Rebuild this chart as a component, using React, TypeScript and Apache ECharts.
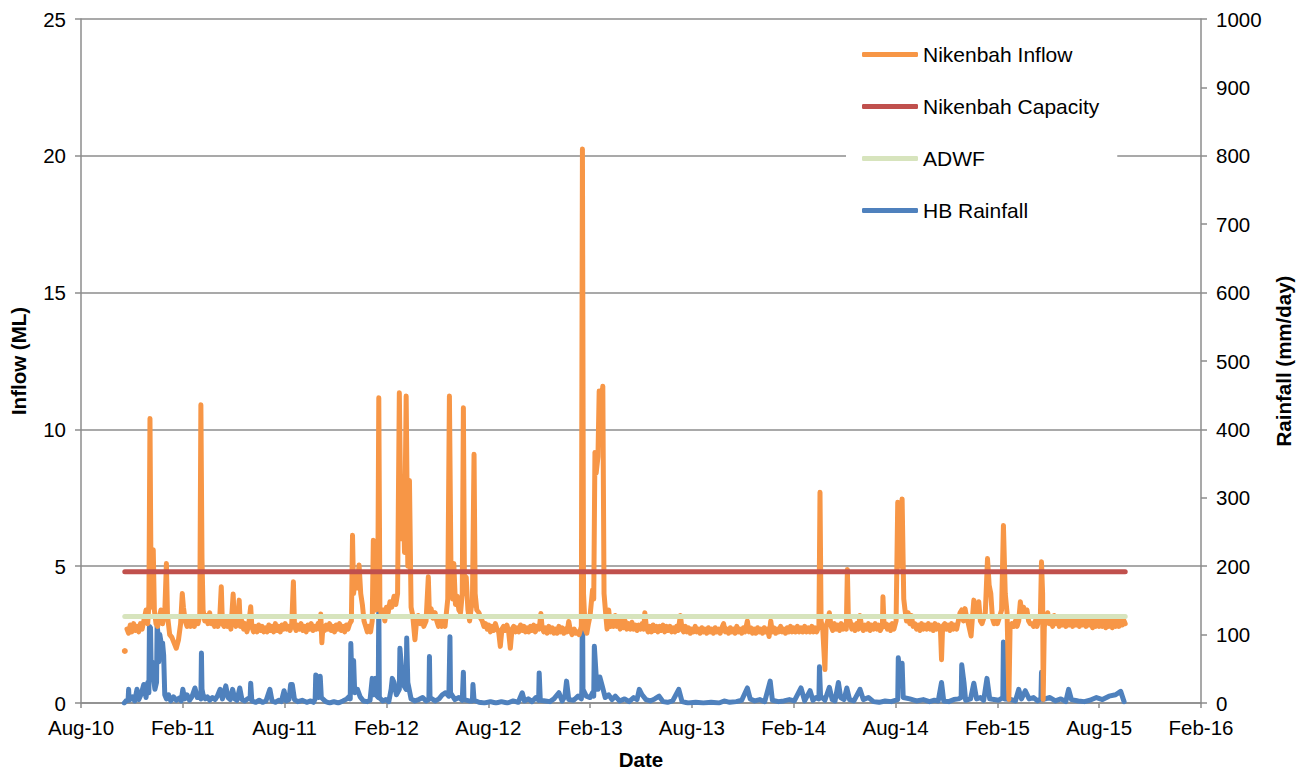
import React, { useEffect, useRef } from 'react';
import * as echarts from 'echarts';

const xTickLabels = ['Aug-10', 'Feb-11', 'Aug-11', 'Feb-12', 'Aug-12', 'Feb-13', 'Aug-13', 'Feb-14', 'Aug-14', 'Feb-15', 'Aug-15', 'Feb-16'];

const seriesNames = ['Nikenbah Inflow', 'Nikenbah Capacity', 'ADWF', 'HB Rainfall'];

const capacityML = 4.8;
const adwfML = 3.16;
const refLineDates = ['2010-10-19', '2015-09-17'];

// first isolated reading (drawn as a dot)
const inflowFirst: [string, number] = ['2010-10-19', 1.9];

const inflow: [string, number][] = [
  ['2010-10-23', 2.7], ['2010-10-26', 2.55], ['2010-10-29', 2.85], ['2010-11-01', 2.6], ['2010-11-04', 2.9], ['2010-11-07', 2.65], ['2010-11-10', 2.8], ['2010-11-13', 2.6], ['2010-11-16', 2.9], ['2010-11-19', 2.7], ['2010-11-22', 3.0], ['2010-11-26', 3.4], ['2010-11-29', 2.9], ['2010-12-01', 3.6], ['2010-12-03', 10.4], ['2010-12-05', 4.2], ['2010-12-07', 3.5], ['2010-12-09', 5.6], ['2010-12-11', 3.4], ['2010-12-14', 2.9], ['2010-12-17', 2.8], ['2010-12-20', 3.1], ['2010-12-23', 3.4], ['2010-12-26', 2.9], ['2010-12-30', 3.3],
  ['2011-01-02', 5.1], ['2011-01-04', 3.2], ['2011-01-08', 2.5], ['2011-01-12', 2.4], ['2011-01-16', 2.2], ['2011-01-20', 2.0], ['2011-01-24', 2.3], ['2011-01-28', 2.9], ['2011-01-31', 4.0], ['2011-02-02', 3.5], ['2011-02-05', 3.0], ['2011-02-08', 2.8], ['2011-02-11', 3.1], ['2011-02-14', 2.8], ['2011-02-17', 3.0], ['2011-02-20', 2.8], ['2011-02-23', 3.1], ['2011-02-26', 2.9], ['2011-03-01', 3.2], ['2011-03-03', 10.9], ['2011-03-05', 5.3], ['2011-03-07', 3.4], ['2011-03-10', 3.0], ['2011-03-13', 3.2], ['2011-03-16', 2.9], ['2011-03-19', 3.3], ['2011-03-22', 2.9], ['2011-03-25', 3.1], ['2011-03-28', 2.8], ['2011-03-31', 3.0], ['2011-04-03', 2.8], ['2011-04-06', 3.0], ['2011-04-09', 4.25], ['2011-04-11', 2.9], ['2011-04-14', 2.8], ['2011-04-17', 3.1], ['2011-04-20', 2.8], ['2011-04-23', 3.0], ['2011-04-26', 2.7], ['2011-04-30', 3.98], ['2011-05-02', 3.0], ['2011-05-05', 2.8], ['2011-05-08', 3.0], ['2011-05-11', 3.76], ['2011-05-13', 2.8], ['2011-05-16', 3.0], ['2011-05-19', 2.7], ['2011-05-22', 2.9], ['2011-05-25', 2.6], ['2011-05-28', 2.8], ['2011-06-01', 3.52], ['2011-06-03', 2.8], ['2011-06-06', 2.6], ['2011-06-09', 2.8], ['2011-06-12', 2.6], ['2011-06-15', 2.85], ['2011-06-18', 2.65], ['2011-06-21', 2.8], ['2011-06-24', 2.6], ['2011-06-27', 2.75], ['2011-06-30', 2.6], ['2011-07-03', 2.85], ['2011-07-06', 2.65], ['2011-07-09', 2.8], ['2011-07-12', 2.6], ['2011-07-15', 2.9], ['2011-07-18', 2.65], ['2011-07-21', 2.8], ['2011-07-24', 2.6], ['2011-07-27', 2.85], ['2011-07-30', 2.7], ['2011-08-02', 2.9], ['2011-08-05', 2.7], ['2011-08-08', 2.8], ['2011-08-11', 2.65], ['2011-08-14', 2.9], ['2011-08-17', 4.43], ['2011-08-19', 2.8], ['2011-08-22', 2.65], ['2011-08-25', 2.85], ['2011-08-28', 2.7], ['2011-08-31', 2.9], ['2011-09-03', 2.65], ['2011-09-06', 2.8], ['2011-09-09', 2.6], ['2011-09-12', 2.85], ['2011-09-15', 2.7], ['2011-09-18', 2.9], ['2011-09-21', 2.65], ['2011-09-24', 2.8], ['2011-09-27', 2.7], ['2011-09-30', 2.9], ['2011-10-03', 2.7], ['2011-10-05', 3.25], ['2011-10-07', 2.2], ['2011-10-09', 2.8], ['2011-10-12', 2.65], ['2011-10-15', 2.85], ['2011-10-18', 2.7], ['2011-10-21', 2.9], ['2011-10-24', 2.65], ['2011-10-27', 2.8], ['2011-10-30', 2.6], ['2011-11-02', 2.85], ['2011-11-05', 2.7], ['2011-11-08', 2.9], ['2011-11-11', 2.65], ['2011-11-14', 2.8], ['2011-11-17', 2.6], ['2011-11-20', 2.85], ['2011-11-23', 2.7], ['2011-11-26', 2.9], ['2011-11-29', 3.0], ['2011-12-01', 6.13], ['2011-12-03', 4.0], ['2011-12-06', 4.6], ['2011-12-09', 4.2], ['2011-12-13', 5.04], ['2011-12-16', 4.0], ['2011-12-19', 3.6], ['2011-12-22', 3.0], ['2011-12-25', 2.8], ['2011-12-28', 2.6], ['2011-12-31', 2.8],
  ['2012-01-03', 2.6], ['2012-01-06', 3.0], ['2012-01-08', 5.95], ['2012-01-10', 3.5], ['2012-01-13', 3.4], ['2012-01-16', 3.6], ['2012-01-18', 11.16], ['2012-01-20', 3.5], ['2012-01-23', 3.2], ['2012-01-26', 3.4], ['2012-01-29', 3.0], ['2012-02-01', 3.5], ['2012-02-04', 3.3], ['2012-02-07', 3.7], ['2012-02-10', 3.5], ['2012-02-14', 3.9], ['2012-02-17', 3.6], ['2012-02-20', 4.0], ['2012-02-23', 11.34], ['2012-02-26', 6.0], ['2012-02-29', 8.25], ['2012-03-03', 5.5], ['2012-03-06', 11.22], ['2012-03-09', 5.0], ['2012-03-12', 8.13], ['2012-03-15', 3.5], ['2012-03-18', 3.2], ['2012-03-22', 2.31], ['2012-03-25', 3.0], ['2012-03-28', 3.2], ['2012-04-01', 2.9], ['2012-04-04', 3.1], ['2012-04-07', 2.8], ['2012-04-11', 3.0], ['2012-04-15', 4.61], ['2012-04-17', 3.2], ['2012-04-20', 3.45], ['2012-04-23', 3.1], ['2012-04-27', 3.3], ['2012-04-30', 3.0], ['2012-05-03', 2.8], ['2012-05-06', 3.0], ['2012-05-09', 2.8], ['2012-05-12', 3.0], ['2012-05-15', 2.8], ['2012-05-18', 3.4], ['2012-05-20', 3.8], ['2012-05-23', 11.22], ['2012-05-26', 4.5], ['2012-05-29', 3.8], ['2012-05-31', 5.1], ['2012-06-03', 3.6], ['2012-06-06', 3.9], ['2012-06-09', 3.4], ['2012-06-12', 3.3], ['2012-06-15', 4.0], ['2012-06-17', 10.79], ['2012-06-19', 4.0], ['2012-06-22', 4.6], ['2012-06-25', 3.4], ['2012-06-28', 3.0], ['2012-07-01', 3.5], ['2012-07-03', 3.6], ['2012-07-06', 9.09], ['2012-07-08', 4.0], ['2012-07-11', 3.4], ['2012-07-15', 3.3], ['2012-07-18', 3.1], ['2012-07-21', 3.0], ['2012-07-24', 2.8], ['2012-07-27', 2.9], ['2012-07-30', 2.7], ['2012-08-02', 2.85], ['2012-08-05', 2.6], ['2012-08-08', 2.8], ['2012-08-11', 2.65], ['2012-08-14', 2.9], ['2012-08-17', 2.7], ['2012-08-20', 2.6], ['2012-08-23', 2.07], ['2012-08-26', 2.7], ['2012-08-29', 2.8], ['2012-09-01', 2.65], ['2012-09-04', 2.85], ['2012-09-07', 2.6], ['2012-09-10', 2.0], ['2012-09-13', 2.7], ['2012-09-16', 2.8], ['2012-09-19', 2.6], ['2012-09-22', 2.75], ['2012-09-25', 2.6], ['2012-09-28', 2.85], ['2012-10-01', 2.65], ['2012-10-04', 2.8], ['2012-10-07', 2.6], ['2012-10-10', 2.75], ['2012-10-13', 2.6], ['2012-10-16', 2.8], ['2012-10-19', 2.65], ['2012-10-22', 2.85], ['2012-10-25', 2.6], ['2012-10-28', 2.8], ['2012-11-01', 2.7], ['2012-11-04', 3.27], ['2012-11-06', 2.8], ['2012-11-09', 2.6], ['2012-11-12', 2.75], ['2012-11-15', 2.55], ['2012-11-18', 2.8], ['2012-11-21', 2.6], ['2012-11-24', 2.75], ['2012-11-27', 2.55], ['2012-11-30', 2.7], ['2012-12-03', 2.55], ['2012-12-06', 2.8], ['2012-12-09', 2.6], ['2012-12-12', 2.75], ['2012-12-15', 2.55], ['2012-12-18', 2.7], ['2012-12-21', 2.6], ['2012-12-24', 2.98], ['2012-12-27', 2.65], ['2012-12-30', 2.5],
  ['2013-01-03', 2.7], ['2013-01-06', 2.55], ['2013-01-09', 2.6], ['2013-01-12', 2.5], ['2013-01-16', 2.8], ['2013-01-18', 20.25], ['2013-01-20', 4.0], ['2013-01-23', 2.7], ['2013-01-26', 2.55], ['2013-01-29', 2.9], ['2013-02-01', 3.2], ['2013-02-05', 4.13], ['2013-02-07', 3.8], ['2013-02-09', 9.16], ['2013-02-11', 8.4], ['2013-02-14', 9.0], ['2013-02-16', 11.4], ['2013-02-19', 10.8], ['2013-02-22', 11.58], ['2013-02-24', 4.0], ['2013-02-27', 3.2], ['2013-03-01', 2.7], ['2013-03-04', 3.4], ['2013-03-07', 2.8], ['2013-03-10', 3.1], ['2013-03-13', 2.8], ['2013-03-16', 3.2], ['2013-03-19', 2.8], ['2013-03-22', 3.0], ['2013-03-25', 2.7], ['2013-03-28', 3.0], ['2013-03-31', 2.75], ['2013-04-03', 3.0], ['2013-04-06', 2.7], ['2013-04-09', 2.9], ['2013-04-12', 2.7], ['2013-04-15', 2.95], ['2013-04-18', 2.7], ['2013-04-21', 2.85], ['2013-04-24', 2.65], ['2013-04-27', 2.85], ['2013-04-30', 2.7], ['2013-05-03', 2.9], ['2013-05-06', 2.7], ['2013-05-08', 3.3], ['2013-05-11', 2.75], ['2013-05-14', 2.6], ['2013-05-17', 2.8], ['2013-05-20', 2.6], ['2013-05-23', 2.85], ['2013-05-26', 2.65], ['2013-05-29', 2.8], ['2013-06-01', 2.6], ['2013-06-04', 2.8], ['2013-06-07', 2.65], ['2013-06-10', 2.85], ['2013-06-13', 2.6], ['2013-06-16', 2.8], ['2013-06-19', 2.65], ['2013-06-22', 2.8], ['2013-06-25', 2.6], ['2013-06-28', 2.75], ['2013-07-01', 2.6], ['2013-07-04', 2.8], ['2013-07-07', 2.65], ['2013-07-11', 3.2], ['2013-07-14', 2.7], ['2013-07-17', 2.6], ['2013-07-20', 2.8], ['2013-07-23', 2.6], ['2013-07-26', 2.75], ['2013-07-29', 2.55], ['2013-08-01', 2.7], ['2013-08-04', 2.6], ['2013-08-07', 2.8], ['2013-08-10', 2.6], ['2013-08-13', 2.7], ['2013-08-16', 2.55], ['2013-08-19', 2.75], ['2013-08-22', 2.6], ['2013-08-25', 2.7], ['2013-08-28', 2.55], ['2013-08-31', 2.75], ['2013-09-03', 2.6], ['2013-09-06', 2.7], ['2013-09-09', 2.55], ['2013-09-12', 2.75], ['2013-09-15', 2.6], ['2013-09-18', 2.7], ['2013-09-21', 2.55], ['2013-09-24', 2.75], ['2013-09-27', 2.9], ['2013-09-30', 2.6], ['2013-10-03', 2.7], ['2013-10-06', 2.55], ['2013-10-09', 2.75], ['2013-10-12', 2.6], ['2013-10-15', 2.7], ['2013-10-18', 2.55], ['2013-10-21', 2.8], ['2013-10-24', 2.6], ['2013-10-27', 2.7], ['2013-10-30', 2.55], ['2013-11-02', 2.75], ['2013-11-05', 2.6], ['2013-11-09', 3.0], ['2013-11-12', 2.6], ['2013-11-15', 2.75], ['2013-11-18', 2.55], ['2013-11-21', 2.7], ['2013-11-24', 2.55], ['2013-11-27', 2.75], ['2013-11-30', 2.6], ['2013-12-03', 2.7], ['2013-12-06', 2.55], ['2013-12-09', 2.75], ['2013-12-12', 2.6], ['2013-12-15', 2.7], ['2013-12-18', 2.43], ['2013-12-21', 3.0], ['2013-12-24', 2.6], ['2013-12-27', 2.75], ['2013-12-30', 2.55],
  ['2014-01-02', 2.7], ['2014-01-05', 2.6], ['2014-01-08', 2.8], ['2014-01-11', 2.6], ['2014-01-14', 2.7], ['2014-01-17', 2.55], ['2014-01-20', 2.75], ['2014-01-23', 2.6], ['2014-01-26', 2.8], ['2014-01-29', 2.6], ['2014-02-01', 2.75], ['2014-02-04', 2.6], ['2014-02-07', 2.8], ['2014-02-10', 2.6], ['2014-02-13', 2.75], ['2014-02-16', 2.6], ['2014-02-19', 2.8], ['2014-02-22', 2.6], ['2014-02-25', 2.75], ['2014-02-28', 2.6], ['2014-03-03', 2.8], ['2014-03-06', 2.6], ['2014-03-09', 2.75], ['2014-03-12', 2.6], ['2014-03-16', 2.8], ['2014-03-18', 7.7], ['2014-03-20', 3.0], ['2014-03-23', 2.7], ['2014-03-27', 1.22], ['2014-03-29', 2.8], ['2014-04-01', 3.0], ['2014-04-04', 3.3], ['2014-04-07', 2.8], ['2014-04-10', 2.65], ['2014-04-13', 2.9], ['2014-04-16', 2.7], ['2014-04-19', 2.85], ['2014-04-22', 2.65], ['2014-04-25', 2.9], ['2014-04-28', 2.7], ['2014-05-01', 2.85], ['2014-05-04', 2.7], ['2014-05-06', 4.88], ['2014-05-08', 2.9], ['2014-05-11', 3.0], ['2014-05-14', 2.7], ['2014-05-17', 2.85], ['2014-05-20', 2.65], ['2014-05-23', 2.9], ['2014-05-26', 2.7], ['2014-05-29', 3.2], ['2014-06-01', 2.8], ['2014-06-04', 2.65], ['2014-06-07', 2.85], ['2014-06-10', 2.7], ['2014-06-13', 2.9], ['2014-06-16', 2.65], ['2014-06-19', 2.85], ['2014-06-22', 2.7], ['2014-06-25', 2.9], ['2014-06-28', 2.7], ['2014-07-01', 2.85], ['2014-07-04', 2.65], ['2014-07-08', 2.8], ['2014-07-09', 3.88], ['2014-07-11', 2.8], ['2014-07-14', 2.9], ['2014-07-17', 2.7], ['2014-07-20', 2.85], ['2014-07-23', 2.65], ['2014-07-26', 2.9], ['2014-07-29', 2.7], ['2014-08-02', 3.0], ['2014-08-05', 7.34], ['2014-08-08', 7.1], ['2014-08-10', 5.0], ['2014-08-13', 7.46], ['2014-08-16', 3.8], ['2014-08-18', 3.45], ['2014-08-21', 3.0], ['2014-08-24', 3.3], ['2014-08-27', 2.9], ['2014-08-30', 3.2], ['2014-09-02', 2.8], ['2014-09-05', 2.9], ['2014-09-08', 2.7], ['2014-09-11', 2.85], ['2014-09-14', 2.65], ['2014-09-17', 2.9], ['2014-09-20', 2.7], ['2014-09-23', 2.85], ['2014-09-26', 2.7], ['2014-09-29', 2.9], ['2014-10-02', 2.7], ['2014-10-05', 2.85], ['2014-10-08', 2.65], ['2014-10-11', 2.9], ['2014-10-14', 2.7], ['2014-10-17', 2.85], ['2014-10-21', 2.7], ['2014-10-23', 1.58], ['2014-10-25', 2.8], ['2014-10-29', 2.9], ['2014-11-01', 2.7], ['2014-11-04', 2.85], ['2014-11-07', 2.65], ['2014-11-10', 2.9], ['2014-11-13', 2.7], ['2014-11-16', 2.85], ['2014-11-19', 2.7], ['2014-11-22', 3.0], ['2014-11-25', 3.3], ['2014-11-28', 3.4], ['2014-12-01', 3.0], ['2014-12-04', 3.45], ['2014-12-07', 3.1], ['2014-12-10', 2.9], ['2014-12-15', 2.45], ['2014-12-17', 3.0], ['2014-12-20', 3.76], ['2014-12-23', 3.2], ['2014-12-26', 3.4], ['2014-12-29', 3.7],
  ['2015-01-01', 3.0], ['2015-01-04', 2.9], ['2015-01-07', 3.1], ['2015-01-10', 3.3], ['2015-01-14', 5.28], ['2015-01-17', 4.3], ['2015-01-20', 4.0], ['2015-01-23', 3.1], ['2015-01-26', 2.9], ['2015-01-29', 3.0], ['2015-02-01', 2.9], ['2015-02-04', 3.1], ['2015-02-08', 3.4], ['2015-02-11', 6.49], ['2015-02-14', 4.0], ['2015-02-17', 3.3], ['2015-02-20', 0.13], ['2015-02-22', 2.8], ['2015-02-25', 2.9], ['2015-02-28', 2.8], ['2015-03-03', 3.0], ['2015-03-06', 2.8], ['2015-03-09', 3.0], ['2015-03-12', 3.7], ['2015-03-15', 3.2], ['2015-03-18', 3.5], ['2015-03-21', 3.2], ['2015-03-24', 3.4], ['2015-03-27', 3.0], ['2015-03-30', 2.9], ['2015-04-02', 2.9], ['2015-04-05', 2.8], ['2015-04-08', 3.0], ['2015-04-11', 2.8], ['2015-04-14', 3.0], ['2015-04-17', 3.1], ['2015-04-19', 5.16], ['2015-04-21', 4.0], ['2015-04-22', 0.13], ['2015-04-24', 2.8], ['2015-04-27', 3.0], ['2015-04-30', 3.3], ['2015-05-03', 2.9], ['2015-05-06', 3.0], ['2015-05-09', 2.8], ['2015-05-12', 3.2], ['2015-05-15', 2.9], ['2015-05-18', 3.05], ['2015-05-21', 2.8], ['2015-05-24', 3.1], ['2015-05-27', 2.85], ['2015-05-30', 3.0], ['2015-06-02', 2.8], ['2015-06-05', 3.1], ['2015-06-08', 2.85], ['2015-06-11', 3.05], ['2015-06-14', 2.8], ['2015-06-17', 3.1], ['2015-06-20', 2.85], ['2015-06-23', 3.0], ['2015-06-26', 2.8], ['2015-06-29', 3.1], ['2015-07-02', 2.85], ['2015-07-05', 3.05], ['2015-07-08', 2.8], ['2015-07-11', 3.1], ['2015-07-14', 2.85], ['2015-07-17', 3.0], ['2015-07-20', 2.75], ['2015-07-23', 3.05], ['2015-07-26', 2.8], ['2015-07-29', 3.0], ['2015-08-01', 2.8], ['2015-08-04', 3.05], ['2015-08-07', 2.8], ['2015-08-10', 3.0], ['2015-08-13', 2.75], ['2015-08-16', 3.05], ['2015-08-19', 2.8], ['2015-08-22', 3.0], ['2015-08-25', 2.75], ['2015-08-28', 3.0], ['2015-08-31', 2.8], ['2015-09-03', 3.05], ['2015-09-06', 2.8], ['2015-09-09', 3.0], ['2015-09-12', 2.85], ['2015-09-15', 3.0], ['2015-09-17', 2.9],
];

const rainfall: [string, number][] = [
  ['2010-10-18', 0], ['2010-10-21', 3], ['2010-10-25', 4], ['2010-10-26', 20], ['2010-10-27', 4], ['2010-11-02', 9], ['2010-11-06', 3], ['2010-11-10', 20], ['2010-11-13', 5], ['2010-11-17', 12], ['2010-11-22', 27], ['2010-11-26', 8], ['2010-11-29', 30], ['2010-12-01', 15], ['2010-12-02', 112], ['2010-12-04', 110], ['2010-12-05', 58], ['2010-12-07', 60], ['2010-12-09', 40], ['2010-12-12', 20], ['2010-12-15', 30], ['2010-12-16', 112], ['2010-12-18', 100], ['2010-12-19', 60], ['2010-12-21', 100], ['2010-12-23', 90], ['2010-12-26', 88], ['2010-12-28', 70], ['2010-12-30', 12],
  ['2011-01-02', 6], ['2011-01-06', 12], ['2011-01-10', 3], ['2011-01-15', 9], ['2011-01-20', 4], ['2011-01-25', 7], ['2011-01-29', 3], ['2011-02-01', 20], ['2011-02-04', 6], ['2011-02-08', 12], ['2011-02-12', 4], ['2011-02-16', 9], ['2011-02-21', 22], ['2011-02-25', 8], ['2011-03-01', 10], ['2011-03-03', 6], ['2011-03-04', 73], ['2011-03-05', 20], ['2011-03-07', 12], ['2011-03-11', 6], ['2011-03-15', 9], ['2011-03-19', 4], ['2011-03-24', 8], ['2011-03-29', 5], ['2011-04-02', 10], ['2011-04-07', 20], ['2011-04-11', 6], ['2011-04-17', 25], ['2011-04-21', 8], ['2011-04-25', 5], ['2011-04-29', 20], ['2011-05-03', 6], ['2011-05-07', 4], ['2011-05-12', 22], ['2011-05-16', 5], ['2011-05-21', 3], ['2011-05-26', 6], ['2011-05-31', 8], ['2011-06-01', 29], ['2011-06-03', 3], ['2011-06-10', 1], ['2011-06-16', 4], ['2011-06-22', 1], ['2011-06-28', 3], ['2011-07-05', 20], ['2011-07-09', 3], ['2011-07-15', 1], ['2011-07-21', 4], ['2011-07-26', 2], ['2011-07-31', 18], ['2011-08-04', 3], ['2011-08-09', 5], ['2011-08-12', 27], ['2011-08-15', 27], ['2011-08-19', 5], ['2011-08-25', 2], ['2011-09-02', 4], ['2011-09-10', 1], ['2011-09-17', 3], ['2011-09-22', 1], ['2011-09-25', 6], ['2011-09-26', 41], ['2011-09-29', 38], ['2011-10-01', 8], ['2011-10-04', 39], ['2011-10-06', 8], ['2011-10-14', 2], ['2011-10-21', 0], ['2011-10-29', 2], ['2011-11-06', 0], ['2011-11-14', 3], ['2011-11-21', 6], ['2011-11-26', 10], ['2011-11-27', 6], ['2011-11-28', 87], ['2011-11-30', 30], ['2011-12-03', 62], ['2011-12-05', 15], ['2011-12-10', 20], ['2011-12-15', 9], ['2011-12-21', 3], ['2011-12-28', 2],
  ['2012-01-02', 4], ['2012-01-06', 36], ['2012-01-09', 12], ['2012-01-12', 36], ['2012-01-15', 10], ['2012-01-17', 8], ['2012-01-18', 153], ['2012-01-19', 8], ['2012-01-25', 3], ['2012-01-31', 5], ['2012-02-05', 2], ['2012-02-09', 20], ['2012-02-11', 36], ['2012-02-14', 30], ['2012-02-18', 12], ['2012-02-23', 20], ['2012-02-24', 80], ['2012-02-27', 50], ['2012-03-02', 25], ['2012-03-06', 20], ['2012-03-07', 95], ['2012-03-09', 30], ['2012-03-15', 6], ['2012-03-22', 3], ['2012-03-29', 5], ['2012-04-05', 8], ['2012-04-11', 3], ['2012-04-16', 5], ['2012-04-17', 68], ['2012-04-18', 8], ['2012-04-27', 3], ['2012-05-04', 6], ['2012-05-10', 12], ['2012-05-16', 15], ['2012-05-22', 10], ['2012-05-24', 97], ['2012-05-25', 15], ['2012-06-02', 5], ['2012-06-09', 8], ['2012-06-15', 4], ['2012-06-17', 45], ['2012-06-18', 5], ['2012-06-27', 3], ['2012-07-03', 3], ['2012-07-04', 27], ['2012-07-06', 4], ['2012-07-15', 1], ['2012-07-25', 0], ['2012-08-05', 2], ['2012-08-15', 0], ['2012-08-25', 2], ['2012-09-05', 0], ['2012-09-15', 3], ['2012-09-24', 1], ['2012-10-01', 15], ['2012-10-05', 3], ['2012-10-12', 6], ['2012-10-19', 2], ['2012-10-26', 8], ['2012-10-31', 4], ['2012-11-01', 44], ['2012-11-03', 4], ['2012-11-12', 3], ['2012-11-20', 2], ['2012-11-27', 6], ['2012-12-06', 15], ['2012-12-12', 3], ['2012-12-17', 10], ['2012-12-20', 32], ['2012-12-24', 5],
  ['2013-01-02', 4], ['2013-01-10', 10], ['2013-01-16', 6], ['2013-01-17', 20], ['2013-01-18', 177], ['2013-01-19', 20], ['2013-01-25', 10], ['2013-02-01', 8], ['2013-02-05', 15], ['2013-02-07', 10], ['2013-02-08', 83], ['2013-02-11', 40], ['2013-02-14', 20], ['2013-02-17', 38], ['2013-02-21', 25], ['2013-02-26', 8], ['2013-03-04', 12], ['2013-03-10', 5], ['2013-03-16', 10], ['2013-03-24', 3], ['2013-04-02', 6], ['2013-04-10', 2], ['2013-04-18', 8], ['2013-04-24', 5], ['2013-04-28', 20], ['2013-05-03', 12], ['2013-05-10', 5], ['2013-05-18', 3], ['2013-05-26', 6], ['2013-06-03', 10], ['2013-06-10', 2], ['2013-06-18', 1], ['2013-06-27', 3], ['2013-07-08', 20], ['2013-07-14', 2], ['2013-07-25', 0], ['2013-08-08', 1], ['2013-08-22', 0], ['2013-09-05', 1], ['2013-09-19', 0], ['2013-09-28', 3], ['2013-10-08', 1], ['2013-10-20', 2], ['2013-10-30', 4], ['2013-11-09', 22], ['2013-11-14', 6], ['2013-11-22', 3], ['2013-12-01', 5], ['2013-12-10', 2], ['2013-12-20', 32], ['2013-12-24', 4],
  ['2014-01-04', 2], ['2014-01-14', 3], ['2014-01-24', 5], ['2014-02-02', 3], ['2014-02-13', 22], ['2014-02-19', 3], ['2014-02-28', 18], ['2014-03-05', 4], ['2014-03-11', 8], ['2014-03-16', 6], ['2014-03-17', 53], ['2014-03-19', 10], ['2014-03-27', 4], ['2014-04-04', 23], ['2014-04-09', 5], ['2014-04-14', 3], ['2014-04-20', 30], ['2014-04-24', 8], ['2014-04-30', 5], ['2014-05-05', 22], ['2014-05-10', 5], ['2014-05-18', 3], ['2014-05-29', 20], ['2014-06-04', 5], ['2014-06-13', 8], ['2014-06-22', 2], ['2014-07-02', 1], ['2014-07-13', 3], ['2014-07-24', 2], ['2014-08-05', 5], ['2014-08-06', 66], ['2014-08-09', 40], ['2014-08-13', 58], ['2014-08-15', 8], ['2014-08-27', 6], ['2014-09-08', 3], ['2014-09-20', 5], ['2014-10-01', 2], ['2014-10-10', 4], ['2014-10-17', 3], ['2014-10-23', 30], ['2014-10-27', 3], ['2014-11-05', 2], ['2014-11-14', 5], ['2014-11-22', 6], ['2014-11-27', 8], ['2014-11-28', 56], ['2014-12-02', 30], ['2014-12-05', 4], ['2014-12-14', 6], ['2014-12-20', 29], ['2014-12-25', 6],
  ['2015-01-01', 8], ['2015-01-07', 4], ['2015-01-13', 36], ['2015-01-18', 6], ['2015-01-26', 5], ['2015-02-03', 4], ['2015-02-10', 8], ['2015-02-11', 89], ['2015-02-13', 6], ['2015-02-24', 5], ['2015-03-03', 3], ['2015-03-09', 20], ['2015-03-14', 6], ['2015-03-21', 18], ['2015-03-28', 6], ['2015-04-05', 8], ['2015-04-12', 3], ['2015-04-18', 6], ['2015-04-19', 45], ['2015-04-21', 5], ['2015-05-04', 8], ['2015-05-14', 3], ['2015-05-24', 6], ['2015-06-02', 2], ['2015-06-07', 20], ['2015-06-12', 5], ['2015-06-24', 3], ['2015-07-05', 2], ['2015-07-15', 4], ['2015-07-27', 8], ['2015-08-07', 5], ['2015-08-19', 10], ['2015-08-31', 12], ['2015-09-09', 17], ['2015-09-15', 2],
];

// months elapsed since 1 Aug 2010 (x axis unit)
function toMonths(s: string): number {
  const [y, m, d] = s.split('-').map(Number);
  const dim = new Date(y, m, 0).getDate();
  return (y - 2010) * 12 + (m - 8) + (d - 1) / dim;
}

const FONT = '"Liberation Sans", Arial, Helvetica, sans-serif';
const AXIS_GRAY = '#8c8c8c';
const TICK_FONT = 20.5;

function buildOption() {
  const lineBase = (color: string, width: number) => ({
    width,
    color,
    cap: 'round',
    join: 'round',
  });
  const titleStyle = { fontSize: TICK_FONT, fontWeight: 'bold', color: '#000000', fontFamily: FONT };
  const inflowData: any[] = [
    { value: [toMonths(inflowFirst[0]), inflowFirst[1]], symbol: 'circle', symbolSize: 6 },
    [toMonths(inflowFirst[0]) + 0.01, '-'],
    ...inflow.map(([d, v]) => [toMonths(d), v]),
  ];
  return {
    animation: false,
    backgroundColor: '#ffffff',
    textStyle: { fontFamily: FONT },
    grid: { left: 81, top: 19, width: 1120, height: 688, containLabel: false },
    legend: {
      orient: 'vertical',
      left: 846,
      top: 34,
      padding: [10, 18, 10, 16],
      itemGap: 31,
      itemWidth: 56,
      itemHeight: 5,
      icon: 'roundRect',
      backgroundColor: '#ffffff',
      selectedMode: false,
      textStyle: { fontSize: 21, color: '#000000', fontFamily: FONT },
      data: seriesNames,
    },
    xAxis: {
      type: 'value',
      min: 0,
      max: 66,
      interval: 6,
      name: 'Date',
      nameLocation: 'middle',
      nameGap: 46,
      nameTextStyle: titleStyle,
      axisLine: { show: true, onZero: false, lineStyle: { color: AXIS_GRAY, width: 1.5 } },
      axisTick: { show: true, length: 5, lineStyle: { color: AXIS_GRAY, width: 1.5 } },
      axisLabel: {
        fontSize: TICK_FONT,
        color: '#000000',
        margin: 14,
        fontFamily: FONT,
        formatter: (v: number) => xTickLabels[Math.round(v / 6)] ?? '',
      },
      splitLine: { show: false },
    },
    yAxis: [
      {
        type: 'value',
        position: 'left',
        min: 0,
        max: 25,
        interval: 5,
        name: 'Inflow (ML)',
        nameLocation: 'middle',
        nameRotate: 90,
        nameGap: 52,
        nameTextStyle: titleStyle,
        axisLine: { show: true, lineStyle: { color: AXIS_GRAY, width: 1.5 } },
        axisTick: { show: true, length: 6, lineStyle: { color: AXIS_GRAY, width: 1.5 } },
        axisLabel: { fontSize: TICK_FONT, color: '#000000', margin: 15, fontFamily: FONT, formatter: (v: number) => String(v) },
        splitLine: { show: true, lineStyle: { color: AXIS_GRAY, width: 1.5 } },
      },
      {
        type: 'value',
        position: 'right',
        min: 0,
        max: 1000,
        interval: 100,
        name: 'Rainfall (mm/day)',
        nameLocation: 'middle',
        nameRotate: 90,
        nameGap: 72,
        nameTextStyle: titleStyle,
        axisLine: { show: true, lineStyle: { color: AXIS_GRAY, width: 1.5 } },
        axisTick: { show: true, length: 6, lineStyle: { color: AXIS_GRAY, width: 1.5 } },
        axisLabel: { fontSize: TICK_FONT, color: '#000000', margin: 15, fontFamily: FONT, formatter: (v: number) => String(v) },
        splitLine: { show: false },
      },
    ],
    series: [
      {
        name: 'HB Rainfall',
        type: 'line',
        yAxisIndex: 1,
        z: 2,
        symbol: 'none',
        showSymbol: false,
        silent: true,
        itemStyle: { color: '#4F81BD' },
        lineStyle: lineBase('#4F81BD', 5),
        data: rainfall.map(([d, v]) => [toMonths(d), v]),
      },
      {
        name: 'Nikenbah Inflow',
        type: 'line',
        yAxisIndex: 0,
        z: 3,
        symbol: 'none',
        showSymbol: true,
        silent: true,
        connectNulls: false,
        itemStyle: { color: '#F79646' },
        lineStyle: lineBase('#F79646', 5),
        data: inflowData,
      },
      {
        name: 'ADWF',
        type: 'line',
        yAxisIndex: 0,
        z: 4,
        symbol: 'none',
        showSymbol: false,
        silent: true,
        itemStyle: { color: '#D7E4BD' },
        lineStyle: lineBase('#D7E4BD', 5),
        data: refLineDates.map((d) => [toMonths(d), adwfML]),
      },
      {
        name: 'Nikenbah Capacity',
        type: 'line',
        yAxisIndex: 0,
        z: 5,
        symbol: 'none',
        showSymbol: false,
        silent: true,
        itemStyle: { color: '#C0504D' },
        lineStyle: lineBase('#C0504D', 5),
        data: refLineDates.map((d) => [toMonths(d), capacityML]),
      },
    ],
  };
}

export default function App() {
  const ref = useRef<HTMLDivElement>(null);
  useEffect(() => {
    if (!ref.current) return;
    const chart = echarts.init(ref.current, undefined, { renderer: 'svg' });
    chart.setOption(buildOption() as any);
    return () => {
      chart.dispose();
    };
  }, []);
  return (
    <div
      ref={ref}
      style={{ position: 'fixed', left: 0, top: 0, width: 1316, height: 775, background: '#ffffff' }}
    />
  );
}
